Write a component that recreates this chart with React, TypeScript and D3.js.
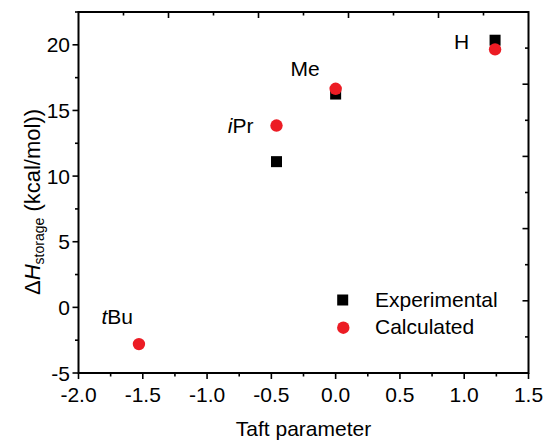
import * as d3 from "d3";

// substituent data (Taft parameter vs storage enthalpy)
const substituents = ["tBu", "iPr", "Me", "H"];
const taft = [-1.53, -0.46, 0.0, 1.24];
const experimental: (number | null)[] = [null, 11.1, 16.25, 20.35];
const calculated = [-2.8, 13.85, 16.65, 19.65];

const xTickLabels = ["-2.0", "-1.5", "-1.0", "-0.5", "0.0", "0.5", "1.0", "1.5"];
const yTickLabels = ["-5", "0", "5", "10", "15", "20"];

// where each substituent name sits relative to its red dot (px)
const labelOffset: Record<string, [number, number]> = {
  tBu: [-6, -20],
  iPr: [-23, 7],
  Me: [-16, -13],
  H: [-26, 0],
};

const W = 544;
const H = 440;
const m = { left: 78.5, right: 528.5, top: 12, bottom: 373 };
const font = "'Liberation Sans', Arial, sans-serif";
const red = "#ec1c24";

export default function App() {
  const x = d3.scaleLinear().domain([-2, 1.5]).range([m.left, m.right]);
  const y = d3.scaleLinear().domain([-5, 22.5]).range([m.bottom, m.top]);
  // mirrored frame axes (top/right) have their own 10-step ticks
  const fx = d3.scaleLinear().domain([0, 1]).range([m.left, m.right]);
  const fy = d3.scaleLinear().domain([0, 1]).range([m.bottom, m.top]);

  const xVals = xTickLabels.map(Number);
  const yVals = yTickLabels.map(Number);
  const xMinor = xVals.slice(1).map((v) => v - 0.25);
  const yMinor = yVals.map((v) => v + 2.5);
  const frameTicks = d3.range(1, 10).map((i) => i / 10);

  const label = (name: string) => {
    if (name === "tBu")
      return (
        <>
          <tspan fontStyle="italic">t</tspan>Bu
        </>
      );
    if (name === "iPr")
      return (
        <>
          <tspan fontStyle="italic">i</tspan>Pr
        </>
      );
    return name;
  };

  return (
    <svg
      width={W}
      height={H}
      style={{ position: "absolute", left: 0, top: 0, background: "#fff" }}
      fontFamily={font}
    >
      <g stroke="#000" strokeWidth={1.6} fill="none">
        {/* bottom ticks, outward */}
        {xVals.map((v) => (
          <line key={"xb" + v} x1={x(v)} x2={x(v)} y1={m.bottom} y2={m.bottom + 6} />
        ))}
        {xMinor.map((v) => (
          <line key={"xm" + v} x1={x(v)} x2={x(v)} y1={m.bottom} y2={m.bottom + 3.5} />
        ))}
        {/* left ticks, outward */}
        {yVals.map((v) => (
          <line key={"yl" + v} x1={m.left - 6} x2={m.left} y1={y(v)} y2={y(v)} />
        ))}
        {yMinor.map((v) => (
          <line key={"ym" + v} x1={m.left - 3.5} x2={m.left} y1={y(v)} y2={y(v)} />
        ))}
        {/* top and right ticks, inward */}
        {frameTicks.map((t, i) => {
          const len = i % 2 === 1 ? 6 : 3.5;
          return (
            <g key={"f" + i}>
              <line x1={fx(t)} x2={fx(t)} y1={m.top} y2={m.top + len} />
              <line x1={m.right - len} x2={m.right} y1={fy(t)} y2={fy(t)} />
            </g>
          );
        })}
        <rect
          x={m.left}
          y={m.top}
          width={m.right - m.left}
          height={m.bottom - m.top}
          strokeWidth={2}
        />
      </g>

      <g fontSize={21} fill="#000">
        {xTickLabels.map((t, i) => (
          <text key={t} x={x(xVals[i])} y={401.5} textAnchor="middle">
            {t}
          </text>
        ))}
        {yTickLabels.map((t, i) => (
          <text key={t} x={70} y={y(yVals[i]) + 7.5} textAnchor="end">
            {t}
          </text>
        ))}
        <text x={(m.left + m.right) / 2} y={436} textAnchor="middle">
          Taft parameter
        </text>
        <text transform="translate(40,202) rotate(-90)" textAnchor="middle" fontSize={22}>
          Δ<tspan fontStyle="italic">H</tspan>
          <tspan fontSize={14} dy={4}>
            storage
          </tspan>
          <tspan dy={-4}> (kcal/mol))</tspan>
        </text>
      </g>

      {/* points */}
      {experimental.map((v, i) =>
        v === null ? null : (
          <rect
            key={"e" + i}
            x={x(taft[i]) - 5.5}
            y={y(v) - 5.5}
            width={11}
            height={11}
            fill="#000"
          />
        )
      )}
      {calculated.map((v, i) => (
        <circle key={"c" + i} cx={x(taft[i])} cy={y(v)} r={6.2} fill={red} />
      ))}
      {substituents.map((s, i) => (
        <text
          key={s}
          x={x(taft[i]) + labelOffset[s][0]}
          y={y(calculated[i]) + labelOffset[s][1]}
          textAnchor="end"
          fontSize={21}
        >
          {label(s)}
        </text>
      ))}

      {/* legend */}
      <rect x={337.2} y={294.5} width={11} height={11} fill="#000" />
      <text x={375} y={306.7} fontSize={21}>
        Experimental
      </text>
      <circle cx={343.3} cy={327.7} r={6.2} fill={red} />
      <text x={375} y={334.3} fontSize={21}>
        Calculated
      </text>
    </svg>
  );
}
